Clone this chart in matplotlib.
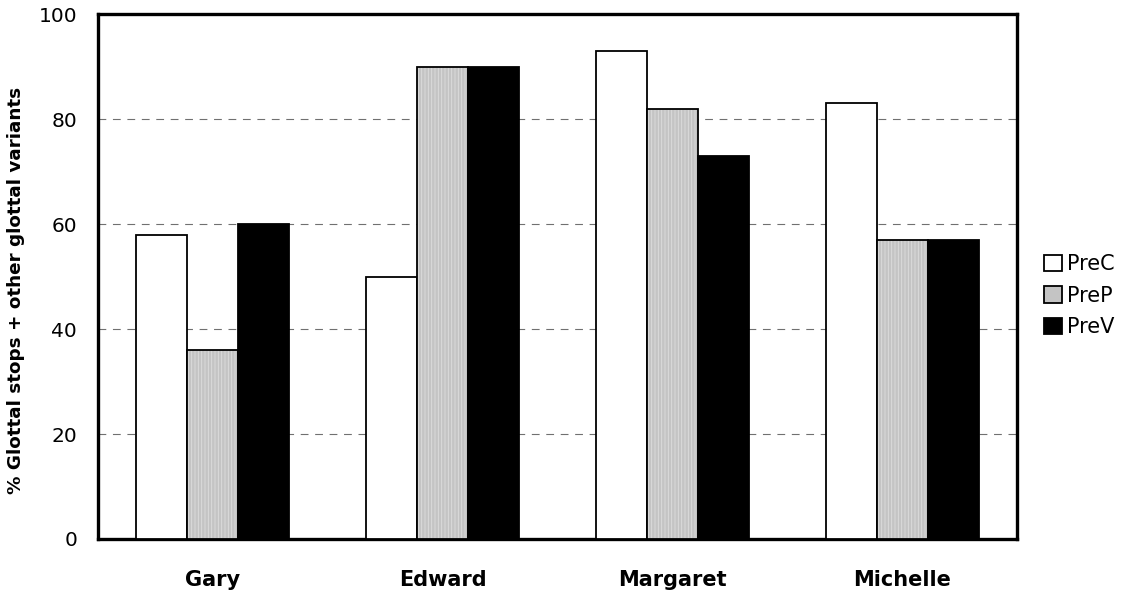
import numpy as np
import matplotlib.pyplot as plt
from matplotlib.patches import Patch

# dados
falantes = ['Gary', 'Edward', 'Margaret', 'Michelle']
series = ['PreC', 'PreP', 'PreV']
preC = [58, 50, 93, 83]
preP = [36, 90, 82, 57]
preV = [60, 90, 73, 57]

plt.rcParams['font.family'] = ['DejaVu Sans']
plt.rcParams['hatch.linewidth'] = 0.6

fig = plt.figure(figsize=(11.36, 5.94), dpi=100)
ax = fig.add_axes([0.0863, 0.0926, 0.8090, 0.8838])

x = np.arange(len(falantes))
largura = 0.222

# PreC - branco
ax.bar(x - largura, preC, largura, color='white', edgecolor='black', linewidth=1.3, zorder=3)

# PreP - cinza pontilhado (preenchimento + contorno separados)
ax.bar(x, preP, largura, color='#c4c4c4', edgecolor='#dedede', hatch='|||||', linewidth=0, zorder=3)
ax.bar(x, preP, largura, fill=False, edgecolor='black', linewidth=1.3, zorder=4)

# PreV - preto
ax.bar(x + largura, preV, largura, color='black', edgecolor='black', linewidth=1.3, zorder=3)

ax.set_xlim(-0.5, 3.5)
ax.set_ylim(0, 100)
ax.set_yticks([0, 20, 40, 60, 80, 100])
ax.set_xticks(x)
ax.set_xticklabels(falantes, fontsize=15, fontweight='bold')
ax.tick_params(axis='x', length=0, pad=22)
ax.tick_params(axis='y', length=0, pad=15, labelsize=14.5)

for s in ax.spines.values():
    s.set_linewidth(2.4)

ax.yaxis.grid(True, linestyle=(0, (7, 6)), color='#707070', linewidth=0.8, zorder=0)
ax.set_axisbelow(True)

ax.set_ylabel('% Glottal stops + other glottal variants', fontsize=13.2, fontweight='bold')
ax.yaxis.set_label_coords(-0.080, 0.474)

# legenda
handles = [
    Patch(facecolor='white', edgecolor='black', linewidth=1.3),
    Patch(facecolor='#c4c4c4', edgecolor='black', linewidth=1.3),
    Patch(facecolor='black', edgecolor='black', linewidth=1.3),
]
fig.legend(handles, series, loc='center left', bbox_to_anchor=(0.919, 0.502),
           frameon=False, fontsize=15, handlelength=0.85, handleheight=0.85,
           handletextpad=0.25, labelspacing=0.55, borderaxespad=0, borderpad=0)

fig.savefig('out.png', dpi=100)
